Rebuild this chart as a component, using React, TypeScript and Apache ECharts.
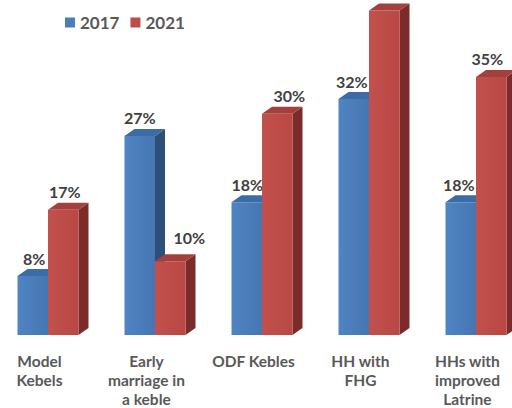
import React, { useEffect, useRef } from 'react';
import * as echarts from 'echarts';

const categories = [
  'Model\nKebels',
  'Early\nmarriage in\na keble',
  'ODF Kebles',
  'HH with\nFHG',
  'HHs with\nimproved\nLatrine',
];
const years = ['2017', '2021'];
const values2017 = [8, 27, 18, 32, 18];
const values2021 = [17, 10, 30, 44, 35];

const FRONT_W = 30.5;
const DX = 10;
const DY = -7;

const palette: Record<string, { front: string; front2: string; top: string; side: string }> = {
  '2017': { front: '#4F84C2', front2: '#4676B2', top: '#3C6BA5', side: '#2D5079' },
  '2021': { front: '#C2504D', front2: '#B94744', top: '#A3403D', side: '#7B2C2A' },
};

// label nudges (pixels) to mimic the reference's data-label placement
const labelNudge2017 = [[1.5, 0], [0, 0], [0.5, 0], [-2, 0], [-2, 0]];
const labelNudge2021 = [[1.5, 0], [19, -6], [12, 0], [0, 0], [-4, 0]];

function makeRender(leftSide: boolean, colors: any, nudges: number[][]) {
  return (params: any, api: any) => {
    const i = api.value(0);
    const v = api.value(1);
    const topPt = api.coord([i, v]);
    const basePt = api.coord([i, 0]);
    const x0 = leftSide ? topPt[0] - FRONT_W : topPt[0];
    const x1 = x0 + FRONT_W;
    const yT = topPt[1];
    const yB = basePt[1];
    const children: any[] = [
      {
        type: 'polygon',
        shape: { points: [[x1, yB], [x1 + DX, yB + DY], [x1 + DX, yT + DY], [x1, yT]] },
        style: { fill: colors.side },
      },
      {
        type: 'polygon',
        shape: { points: [[x0, yT], [x0 + DX, yT + DY], [x1 + DX, yT + DY], [x1, yT]] },
        style: { fill: colors.top },
      },
      {
        type: 'rect',
        shape: { x: x0, y: yT, width: FRONT_W, height: yB - yT },
        style: {
          fill: new echarts.graphic.LinearGradient(0, 0, 1, 0, [
            { offset: 0, color: colors.front },
            { offset: 1, color: colors.front2 },
          ]),
        },
      },
    ];
    const nd = nudges[params.dataIndex] || [0, 0];
    const ly = yT - 10 + nd[1];
    if (ly > 16) {
      children.push({
        type: 'text',
        x: (x0 + x1) / 2 + nd[0],
        y: ly,
        style: {
          text: v + '%',
          fill: '#404040',
          font: 'bold 16px Lato',
          align: 'center',
          verticalAlign: 'bottom',
        },
      });
    }
    return { type: 'group', children };
  };
}

export default function App() {
  const ref = useRef<HTMLDivElement>(null);
  useEffect(() => {
    if (!ref.current) return;
    const chart = echarts.init(ref.current, null, { renderer: 'svg' });
    chart.setOption({
      animation: false,
      backgroundColor: '#ffffff',
      legend: {
        data: years,
        left: 60,
        top: 9,
        icon: 'rect',
        itemWidth: 10,
        itemHeight: 10,
        itemGap: 11,
        textStyle: {
          fontFamily: 'Lato',
          fontWeight: 'bold',
          fontSize: 17,
          color: '#595959',
        },
      },
      grid: { left: 0, right: 0, top: 40, bottom: 68 },
      xAxis: {
        type: 'value',
        min: -0.4486,
        max: 4.3364,
        axisLine: { show: false },
        axisTick: { show: false },
        splitLine: { show: false },
        axisLabel: {
          customValues: [-0.08, 0.92, 1.92, 2.92, 3.92],
          formatter: (v: number) => categories[Math.abs(Math.round(v))],
          margin: 16,
          fontFamily: 'Lato',
          fontWeight: 'bold',
          fontSize: 15.5,
          lineHeight: 19,
          color: '#595959',
        },
      },
      yAxis: { type: 'value', min: 0, max: 40, show: false },
      series: [
        {
          name: years[0],
          type: 'custom',
          clip: false,
          itemStyle: { color: '#4A7EBB' },
          encode: { x: 0, y: 1 },
          data: values2017.map((v, i) => [i, v]),
          renderItem: makeRender(true, palette['2017'], labelNudge2017),
        },
        {
          name: years[1],
          type: 'custom',
          clip: false,
          itemStyle: { color: '#BE4B48' },
          encode: { x: 0, y: 1 },
          data: values2021.map((v, i) => [i, v]),
          renderItem: makeRender(false, palette['2021'], labelNudge2021),
        },
      ],
    });
    return () => chart.dispose();
  }, []);
  return (
    <div
      ref={ref}
      style={{ position: 'absolute', left: 0, top: 0, width: 512, height: 408 }}
    />
  );
}
